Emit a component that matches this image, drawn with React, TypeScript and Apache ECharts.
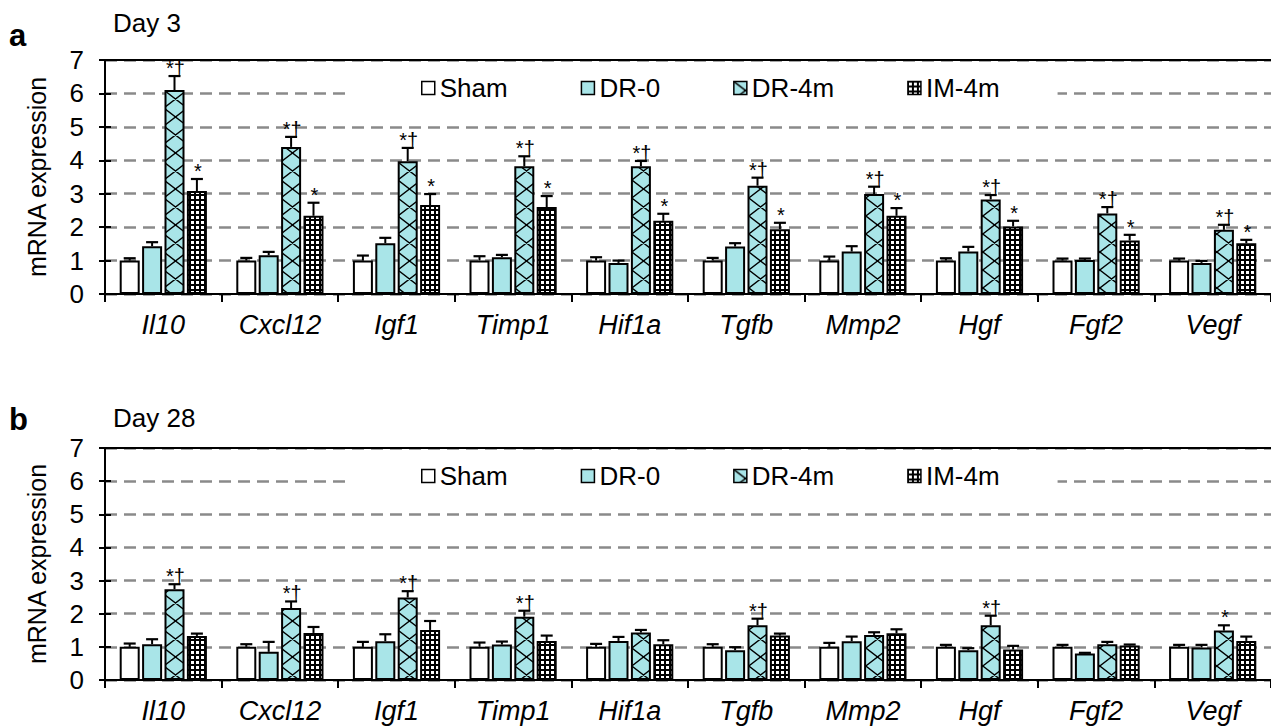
import React, { useEffect, useRef } from "react";
import * as echarts from "echarts";

// ---------- data ----------
const categories = ["Il10", "Cxcl12", "Igf1", "Timp1", "Hif1a", "Tgfb", "Mmp2", "Hgf", "Fgf2", "Vegf"];
const groups = ["Sham", "DR-0", "DR-4m", "IM-4m"];
const panelLetters = ["a", "b"];
const panelTitles = ["Day 3", "Day 28"];
const yAxisTitle = "mRNA expression";

// Day 3
const day3Sham = [1.0, 1.0, 1.0, 1.0, 1.0, 1.0, 1.0, 1.0, 1.0, 1.0];
const day3ShamErr = [0.07, 0.08, 0.15, 0.13, 0.1, 0.08, 0.12, 0.07, 0.06, 0.06];
const day3DR0 = [1.43, 1.16, 1.52, 1.1, 0.93, 1.42, 1.27, 1.27, 1.02, 0.93];
const day3DR0Err = [0.12, 0.1, 0.16, 0.07, 0.07, 0.1, 0.16, 0.14, 0.04, 0.06];
const day3DR4m = [6.1, 4.4, 3.97, 3.82, 3.82, 3.24, 2.99, 2.83, 2.41, 1.92];
const day3DR4mErr = [0.42, 0.3, 0.4, 0.3, 0.16, 0.24, 0.22, 0.13, 0.19, 0.15];
const day3IM4m = [3.08, 2.34, 2.66, 2.6, 2.19, 1.94, 2.34, 2.02, 1.6, 1.52];
const day3IM4mErr = [0.36, 0.39, 0.33, 0.33, 0.21, 0.19, 0.23, 0.17, 0.17, 0.1];
const day3ShamSig = ["", "", "", "", "", "", "", "", "", ""];
const day3DR0Sig = ["", "", "", "", "", "", "", "", "", ""];
const day3DR4mSig = ["*†", "*†", "*†", "*†", "*†", "*†", "*†", "*†", "*†", "*†"];
const day3IM4mSig = ["*", "*", "*", "*", "*", "*", "*", "*", "*", "*"];

// Day 28
const day28Sham = [1.0, 1.0, 1.0, 1.0, 1.0, 1.0, 1.0, 1.0, 1.0, 1.0];
const day28ShamErr = [0.1, 0.08, 0.15, 0.13, 0.09, 0.08, 0.12, 0.06, 0.06, 0.06];
const day28DR0 = [1.08, 0.85, 1.17, 1.07, 1.18, 0.9, 1.17, 0.9, 0.8, 0.98];
const day28DR0Err = [0.15, 0.3, 0.21, 0.09, 0.12, 0.09, 0.14, 0.06, 0.02, 0.08];
const day28DR4m = [2.74, 2.17, 2.49, 1.91, 1.43, 1.65, 1.36, 1.65, 1.08, 1.49];
const day28DR4mErr = [0.15, 0.2, 0.19, 0.18, 0.08, 0.2, 0.08, 0.29, 0.07, 0.16];
const day28IM4m = [1.33, 1.42, 1.51, 1.18, 1.08, 1.34, 1.41, 0.92, 1.04, 1.18];
const day28IM4mErr = [0.07, 0.18, 0.27, 0.16, 0.12, 0.06, 0.12, 0.11, 0.03, 0.13];
const day28ShamSig = ["", "", "", "", "", "", "", "", "", ""];
const day28DR0Sig = ["", "", "", "", "", "", "", "", "", ""];
const day28DR4mSig = ["*†", "*†", "*†", "*†", "", "*†", "", "*†", "", "*"];
const day28IM4mSig = ["", "", "", "", "", "", "", "", "", ""];

// ---------- styling ----------
const FONT = "'Liberation Sans', Arial, sans-serif";
const CYAN = "#a9e5e8";
const BAR_W = 20;
const BAR_GAP = 0.12;

function makeDiamondPattern(): HTMLCanvasElement {
  const W = 23.4;
  const H = 18;
  const c = document.createElement("canvas");
  c.width = 117;
  c.height = 36;
  const ctx = c.getContext("2d")!;
  ctx.fillStyle = CYAN;
  ctx.fillRect(0, 0, c.width, c.height);
  ctx.strokeStyle = "#000";
  ctx.lineWidth = 1.5;
  ctx.beginPath();
  for (let j = -1; j <= 5; j++) {
    for (let r = -1; r <= 2; r++) {
      ctx.moveTo(j * W, r * H);
      ctx.lineTo((j + 1) * W, (r + 1) * H);
      ctx.moveTo((j + 1) * W, r * H);
      ctx.lineTo(j * W, (r + 1) * H);
    }
  }
  ctx.stroke();
  return c;
}

function makeDotPattern(): HTMLCanvasElement {
  const c = document.createElement("canvas");
  c.width = 5;
  c.height = 5;
  const ctx = c.getContext("2d")!;
  ctx.fillStyle = "#000";
  ctx.fillRect(0, 0, 5, 5);
  ctx.fillStyle = "#fff";
  ctx.fillRect(1, 1, 3, 3);
  return c;
}

export default function App() {
  const ref = useRef<HTMLDivElement>(null);

  useEffect(() => {
    if (!ref.current) return;
    const chart = echarts.init(ref.current, undefined, { renderer: "svg" });

    const diamond = { image: makeDiamondPattern(), repeat: "repeat" };
    const dots = { image: makeDotPattern(), repeat: "repeat" };
    const fills: any[] = ["#ffffff", CYAN, diamond, dots];

    const panels = [
      {
        values: [day3Sham, day3DR0, day3DR4m, day3IM4m],
        errs: [day3ShamErr, day3DR0Err, day3DR4mErr, day3IM4mErr],
        sigs: [day3ShamSig, day3DR0Sig, day3DR4mSig, day3IM4mSig],
      },
      {
        values: [day28Sham, day28DR0, day28DR4m, day28IM4m],
        errs: [day28ShamErr, day28DR0Err, day28DR4mErr, day28IM4mErr],
        sigs: [day28ShamSig, day28DR0Sig, day28DR4mSig, day28IM4mSig],
      },
    ];

    const gridTops = [60, 448];
    const gridHeights = [234, 232];
    const titleTops = [10, 405];
    const letterTops = [20, 404];
    const legendTops = [71, 459];

    const grid: any[] = [];
    const xAxis: any[] = [];
    const yAxis: any[] = [];
    const series: any[] = [];
    const legend: any[] = [];
    const graphic: any[] = [];

    panels.forEach((p, pi) => {
      grid.push({ left: 105, top: gridTops[pi], width: 1170, height: gridHeights[pi], containLabel: false });
      xAxis.push({
        type: "category",
        gridIndex: pi,
        data: categories,
        position: "bottom",
        axisLine: { show: true, onZero: false, lineStyle: { color: "#000", width: 2 } },
        axisTick: { show: true, length: 8, interval: 0, lineStyle: { color: "#000", width: 2 } },
        axisLabel: {
          interval: 0,
          fontStyle: "italic",
          fontSize: 27,
          fontFamily: FONT,
          color: "#000",
          margin: 17,
        },
        splitLine: { show: false },
      });
      xAxis.push({
        type: "category",
        gridIndex: pi,
        data: categories,
        position: "top",
        axisLine: { show: true, onZero: false, lineStyle: { color: "#000", width: 2 } },
        axisTick: { show: false },
        axisLabel: { show: false },
        splitLine: { show: false },
      });
      yAxis.push({
        type: "value",
        gridIndex: pi,
        min: 0,
        max: 7,
        interval: 1,
        position: "left",
        name: yAxisTitle,
        nameLocation: "middle",
        nameGap: 56,
        nameTextStyle: { fontSize: 25, fontFamily: FONT, color: "#000" },
        axisLine: { show: true, lineStyle: { color: "#000", width: 2 } },
        axisTick: { show: true, length: 6, lineStyle: { color: "#000", width: 2 } },
        axisLabel: { fontSize: 26, fontFamily: FONT, color: "#000", margin: 21 },
        splitLine: { show: true, lineStyle: { color: "#8a8a8a", width: 2.5, type: [12, 7] } },
      });
      yAxis.push({
        type: "value",
        gridIndex: pi,
        min: 0,
        max: 7,
        interval: 1,
        position: "left",
        axisLine: { show: false },
        axisTick: { show: true, inside: true, length: 6, lineStyle: { color: "#000", width: 2 } },
        axisLabel: { show: false },
        splitLine: { show: false },
      });

      groups.forEach((g, gi) => {
        series.push({
          type: "bar",
          name: g,
          xAxisIndex: pi * 2,
          yAxisIndex: pi * 2,
          data: p.values[gi],
          barWidth: BAR_W,
          barGap: `${BAR_GAP * 100}%`,
          itemStyle: { color: fills[gi], borderColor: "#000", borderWidth: 2 },
          emphasis: { disabled: true },
          z: 2,
        });
      });

      const errData: any[] = [];
      const sigList: string[] = [];
      groups.forEach((g, gi) => {
        categories.forEach((c, ci) => {
          errData.push([ci, p.values[gi][ci], p.errs[gi][ci], gi]);
          sigList.push(p.sigs[gi][ci]);
        });
      });
      series.push({
        type: "custom",
        name: `err-${pi}`,
        xAxisIndex: pi * 2,
        yAxisIndex: pi * 2,
        data: errData,
        encode: { x: 0, y: 1 },
        z: 5,
        silent: true,
        renderItem: (params: any, api: any) => {
          const ci = api.value(0);
          const v = api.value(1);
          const e = api.value(2);
          const gi = api.value(3);
          const base = api.coord([ci, v]);
          const top = api.coord([ci, v + e]);
          const step = BAR_W * (1 + BAR_GAP);
          const x = base[0] + (gi - 1.5) * step;
          const children: any[] = [
            { type: "line", shape: { x1: x, y1: base[1], x2: x, y2: top[1] }, style: { stroke: "#000", lineWidth: 2 } },
            { type: "line", shape: { x1: x - 6, y1: top[1], x2: x + 6, y2: top[1] }, style: { stroke: "#000", lineWidth: 2.2 } },
          ];
          const sig = sigList[params.dataIndex];
          if (sig) {
            children.push({
              type: "text",
              style: {
                text: sig,
                x: x + 1,
                y: top[1] + 2,
                textAlign: "center",
                textVerticalAlign: "bottom",
                fontSize: 20,
                fontFamily: FONT,
                fill: "#000",
              },
            });
          }
          return { type: "group", children };
        },
      });

      legend.push({
        data: groups,
        left: 350,
        top: legendTops[pi],
        orient: "horizontal",
        itemWidth: 13,
        itemHeight: 13,
        itemGap: 73,
        padding: [4, 58, 4, 71],
        backgroundColor: "#fff",
        selectedMode: false,
        icon: "rect",
        itemStyle: { borderColor: "#000", borderWidth: 1.5 },
        textStyle: { fontSize: 26, fontFamily: FONT, color: "#000" },
        z: 10,
      });

      graphic.push({
        type: "text",
        left: 9,
        top: letterTops[pi],
        style: { text: panelLetters[pi], font: `bold 31px ${FONT}`, fill: "#000" },
      });
      graphic.push({
        type: "text",
        left: 113,
        top: titleTops[pi],
        style: { text: panelTitles[pi], font: `26px ${FONT}`, fill: "#000" },
      });
    });

    chart.setOption({
      animation: false,
      backgroundColor: "#fff",
      grid,
      xAxis,
      yAxis,
      series,
      legend,
      graphic,
    });

    return () => chart.dispose();
  }, []);

  return (
    <div
      ref={ref}
      style={{ position: "fixed", left: 0, top: 0, width: 1271, height: 727, background: "#fff" }}
    />
  );
}
